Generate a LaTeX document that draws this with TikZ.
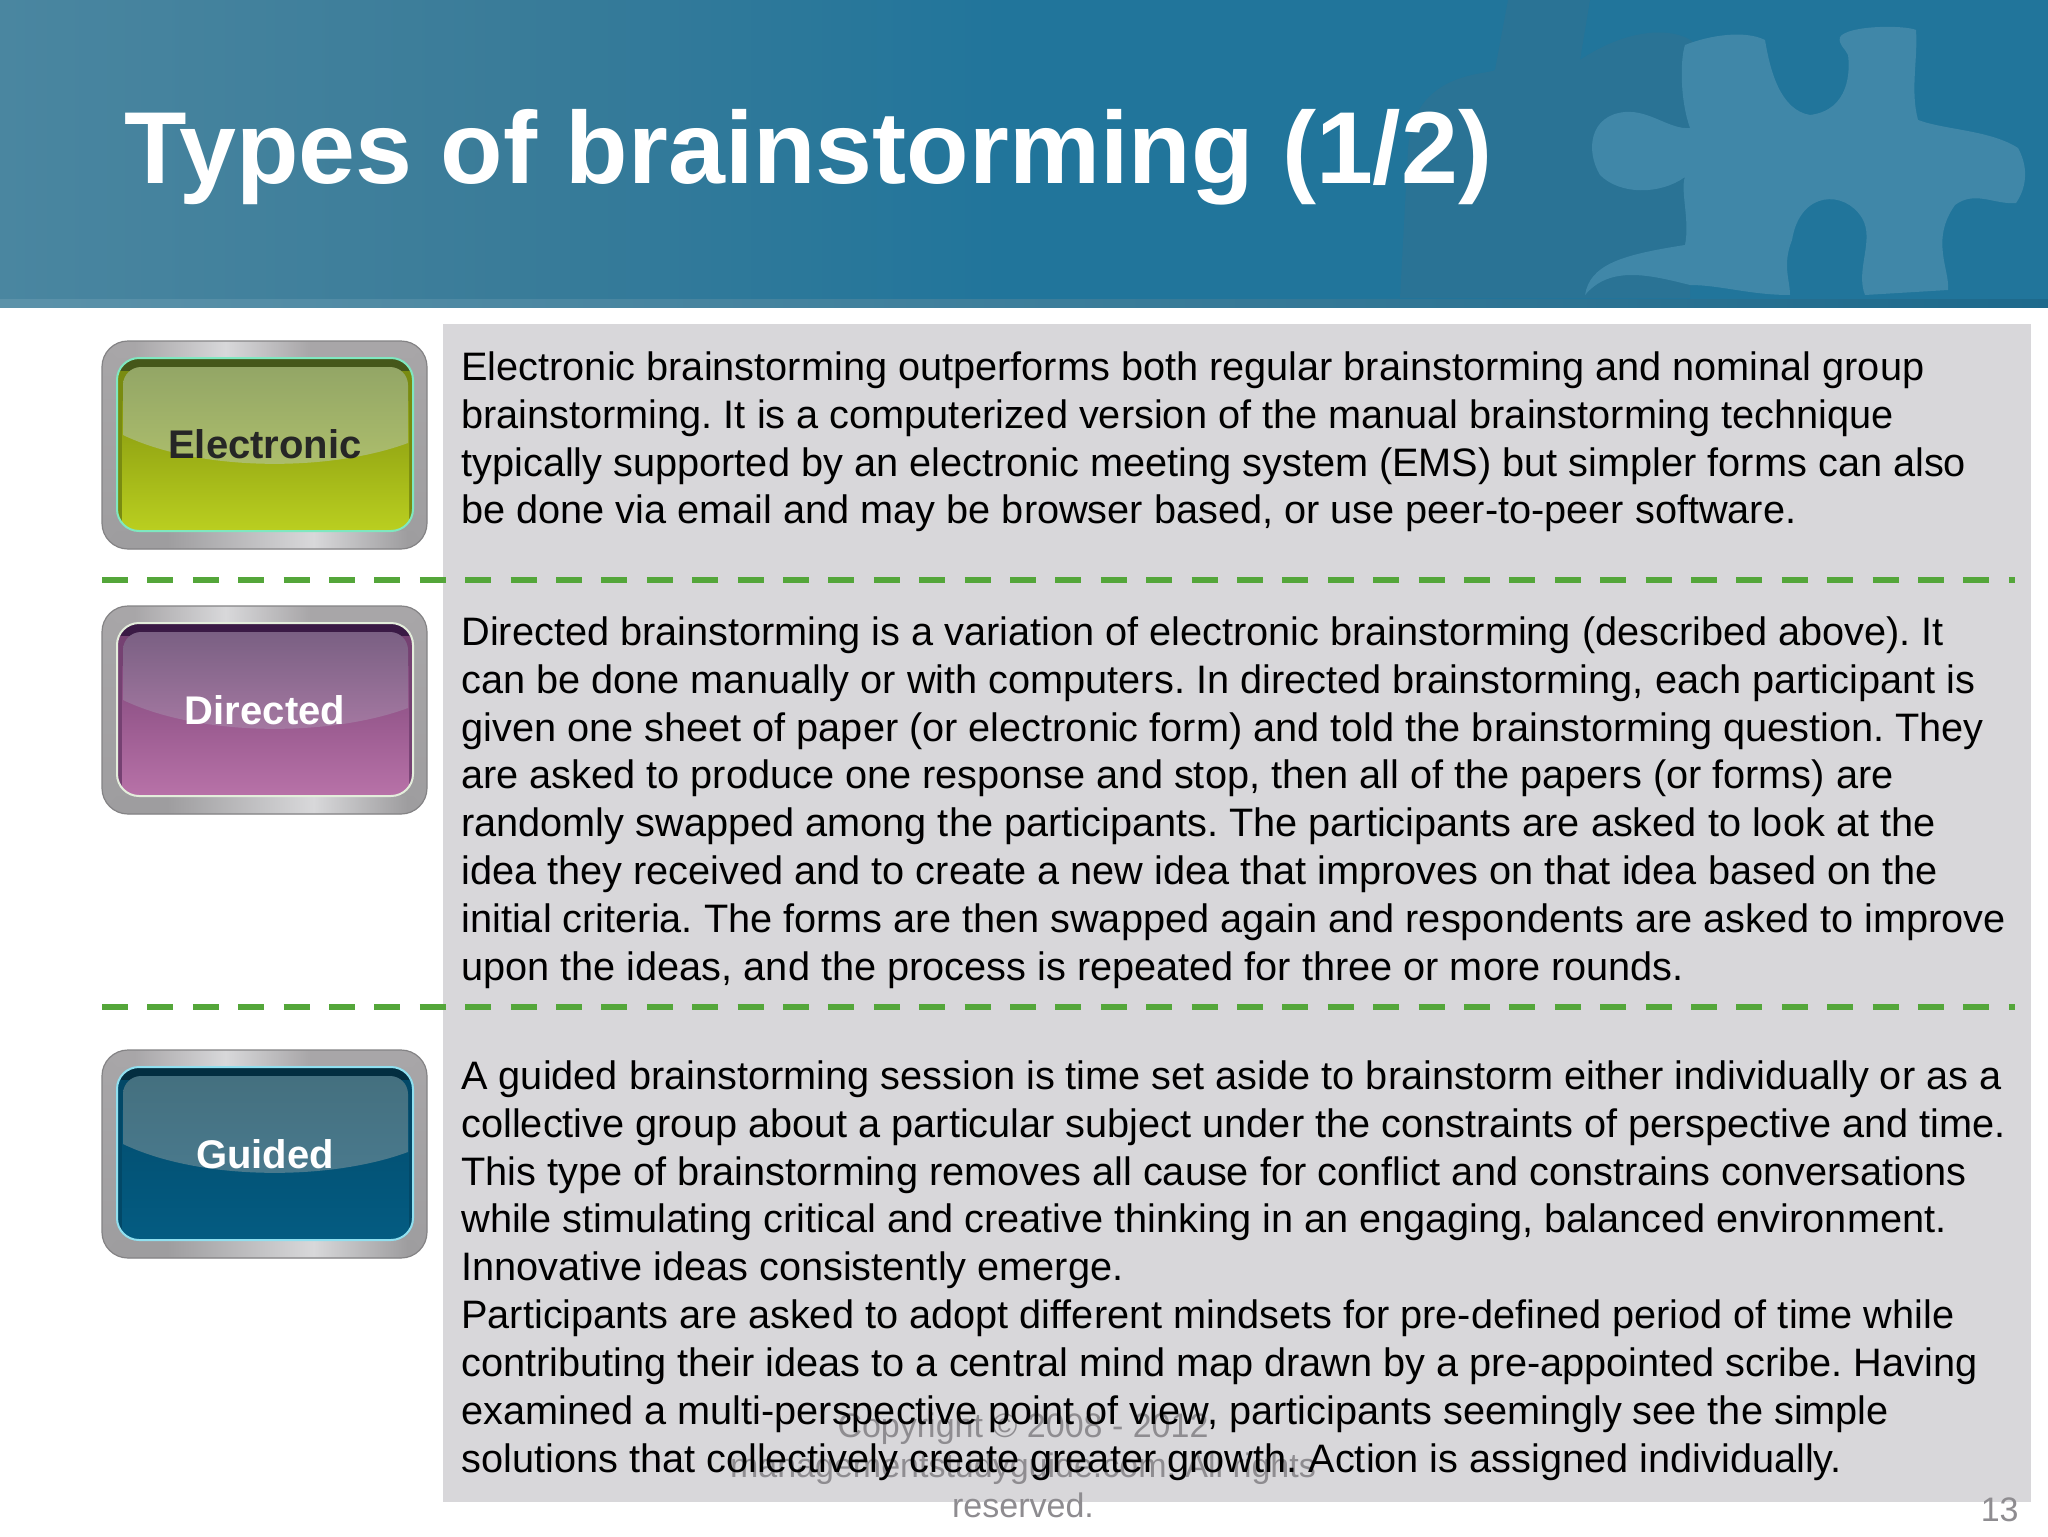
\documentclass[tikz,border=0pt]{standalone}
\usepackage{fontspec}
\setmainfont{Liberation Sans}
\definecolor{panelgray}{HTML}{D8D7DA}
\definecolor{dashgreen}{HTML}{54A63A}
\definecolor{footgray}{HTML}{8E8C90}
\definecolor{headL}{HTML}{4A86A0}
\definecolor{headM}{HTML}{3A7C99}
\definecolor{headR}{HTML}{21759B}
\definecolor{puzzleLight}{HTML}{4087A8}
\definecolor{puzzleDark}{HTML}{2A7395}
\definecolor{frameA}{HTML}{A8A6A8}
\definecolor{frameB}{HTML}{D8D8DA}
\definecolor{frameD}{HTML}{9E9D9F}
\definecolor{frameLine}{HTML}{848385}
\definecolor{gDark}{HTML}{45571A}\definecolor{gLowT}{HTML}{86980F}\definecolor{gLowB}{HTML}{BACF20}\definecolor{gGlT}{HTML}{93A666}\definecolor{gGlB}{HTML}{AEBF6C}\definecolor{gEdge}{HTML}{7FE8C0}
\definecolor{pDark}{HTML}{3A1A45}\definecolor{pLowT}{HTML}{844A7E}\definecolor{pLowB}{HTML}{B872A8}\definecolor{pGlT}{HTML}{7A6083}\definecolor{pGlB}{HTML}{A87AA4}\definecolor{pEdge}{HTML}{E4EEDC}
\definecolor{tDark}{HTML}{032E40}\definecolor{tLowT}{HTML}{024E70}\definecolor{tLowB}{HTML}{045C82}\definecolor{tGlT}{HTML}{44707F}\definecolor{tGlB}{HTML}{4A7A8E}\definecolor{tEdge}{HTML}{90E0F0}
\pgfdeclarehorizontalshading{frametop}{100bp}{color(0bp)=(frameA); color(30bp)=(frameA); color(44bp)=(frameB); color(57bp)=(frameA); color(100bp)=(frameA)}
\pgfdeclarehorizontalshading{framebot}{100bp}{color(0bp)=(frameD); color(35bp)=(frameD); color(57.5bp)=(frameB); color(72bp)=(frameD); color(100bp)=(frameD)}
\tikzset{
  bodytext/.style={anchor=north west,inner sep=0pt,align=left,text=black,font=\fontsize{19.85}{23.92}\selectfont\frenchspacing},
  buttonlabel/.style={anchor=base,inner sep=0pt,font=\fontsize{20}{24}\selectfont\bfseries},
  footertext/.style={anchor=base,inner sep=0pt,text=footgray,font=\fontsize{17}{20}\selectfont\frenchspacing},
  divider/.style={draw=dashgreen,line width=3.2pt,dash pattern=on 13pt off 9.7pt},
}
% #1 top y, #2 colour prefix, #3 name, #4 label colour, #5 label, #6 label baseline
\newcommand{\glassbutton}[6]{%
  \begin{scope}[yshift=#1*-0.5pt]
    \shade[top color=frameA,bottom color=frameD,rounded corners=13pt] (102,0) rectangle (427,208);
    \begin{scope}
      \clip[rounded corners=13pt] (102,0) rectangle (427,208);
      \shade[shading=frametop] (102,0) -- (427,0) -- (413,17) -- (117,17) -- cycle;
      \shade[shading=framebot] (102,208) -- (427,208) -- (413,190) -- (117,190) -- cycle;
    \end{scope}
    \draw[frameLine,line width=0.6pt,rounded corners=13pt] (102,0) rectangle (427,208);
    \fill[#2LowT!80!#2Dark,rounded corners=11pt] (117,17) rectangle (413,190);
    \begin{scope}
      \clip[rounded corners=11pt] (117,17) rectangle (413,190);
      \fill[#2Dark] (117,17) rectangle (413,30);
      \shade[top color=#2LowT,bottom color=#2LowB] (122,60) rectangle (409,190);
    \end{scope}
    \begin{scope}
      \clip[rounded corners=9pt] (123,26) rectangle (408,190);
      \shade[top color=#2GlT,bottom color=#2GlB]
        (123,26) -- (408,26) -- (408,102) .. controls (330,131) and (200,131) .. (123,94) -- cycle;
    \end{scope}
    \draw[#2Edge,line width=1pt,rounded corners=11pt] (117,17) rectangle (413,190);
  \end{scope}
  \node[buttonlabel,text=#4] (#3) at (265,#6) {#5};
}
\begin{document}
\begin{tikzpicture}[x=0.5pt,y=-0.5pt]
\useasboundingbox (0,0) rectangle (2048,1536);
\fill[white] (0,0) rectangle (2048,1536);
% header band
\shade[left color=headL,right color=headM] (0,0) rectangle (500,300);
\shade[left color=headM,right color=headR] (500,0) rectangle (1000,300);
\fill[headR] (1000,0) rectangle (2048,300);
% darker puzzle piece behind
\fill[puzzleDark]
  (1400,298) -- (1408,150) .. controls (1412,70) and (1490,75) .. (1495,70) -- (1508,0) -- (1590,0) -- (1580,60)
  .. controls (1640,20) and (1690,30) .. (1700,50) -- (1690,290) -- (1690,298) -- cycle;
% lighter puzzle piece
\fill[puzzleLight]
  (1840,37) .. controls (1848,25) and (1905,25) .. (1916,30)
  .. controls (1918,60) and (1910,90) .. (1918,120)
  .. controls (1945,130) and (1990,130) .. (2018,148)
  .. controls (2030,170) and (2025,190) .. (2016,203)
  .. controls (1995,205) and (1975,190) .. (1955,205)
  .. controls (1930,240) and (1950,270) .. (1948,290)
  -- (1865,295)
  .. controls (1855,270) and (1875,240) .. (1862,218)
  .. controls (1845,190) and (1800,190) .. (1792,240)
  .. controls (1782,265) and (1790,280) .. (1790,295)
  .. controls (1750,295) and (1720,285) .. (1690,285)
  .. controls (1650,275) and (1610,265) .. (1585,295)
  .. controls (1590,265) and (1620,255) .. (1685,245)
  .. controls (1690,220) and (1680,190) .. (1685,177)
  .. controls (1660,195) and (1620,195) .. (1600,175)
  .. controls (1585,150) and (1590,115) .. (1625,112)
  .. controls (1650,110) and (1670,130) .. (1690,128)
  .. controls (1680,100) and (1680,60) .. (1685,45)
  .. controls (1710,35) and (1745,30) .. (1765,40)
  .. controls (1770,70) and (1780,110) .. (1810,115)
  .. controls (1850,110) and (1850,70) .. (1848,55)
  .. controls (1845,48) and (1838,45) .. (1840,37) -- cycle;
% bottom strip of the header
\shade[left color=headL!90!white,right color=headR!90!black] (0,299) rectangle (2048,307);
% grey panel
\fill[panelgray] (443,324) rectangle (2031,1502);
% footer, beneath the body text
\node[footertext] (f1) at (1023,1437) {Copyright © 2008 - 2012};
\node[footertext] (f2) at (1023,1477) {managementstudyguide.com. All rights};
\node[footertext] (f3) at (1023,1517) {reserved.};
\node[footertext,anchor=base east] (pg) at (2019,1521) {13};
% dividers
\coordinate (d1a) at (102,580); \coordinate (d1b) at (2015,580);
\coordinate (d2a) at (102,1007); \coordinate (d2b) at (2015,1007);
\draw[divider] (d1a) -- (d1b);
\draw[divider] (d2a) -- (d2b);
% buttons
\glassbutton{341}{g}{electronic}{black!85}{Electronic}{458}
\glassbutton{606}{p}{directed}{white}{Directed}{724}
\glassbutton{1050}{t}{guided}{white}{Guided}{1168}
% title
\node[anchor=base west,inner sep=0pt,text=white,font=\fontsize{51.15}{60}\selectfont\bfseries] (title) at (124,183) {Types of brainstorming (1/2)};
% body
\node[bodytext] (p1) at (461,346) {\rule{0pt}{17pt}Electronic brainstorming outperforms both regular brainstorming and nominal group\\
brainstorming. It is a computerized version of the manual brainstorming technique\\
typically supported by an electronic meeting system (EMS) but simpler forms can also\\
be done via email and may be browser based, or use peer-to-peer software.};
\node[bodytext] (p2) at (461,611) {\rule{0pt}{17pt}Directed brainstorming is a variation of electronic brainstorming (described above). It\\
can be done manually or with computers. In directed brainstorming, each participant is\\
given one sheet of paper (or electronic form) and told the brainstorming question. They\\
are asked to produce one response and stop, then all of the papers (or forms) are\\
randomly swapped among the participants. The participants are asked to look at the\\
idea they received and to create a new idea that improves on that idea based on the\\
initial criteria. The forms are then swapped again and respondents are asked to improve\\
upon the ideas, and the process is repeated for three or more rounds.};
\node[bodytext] (p3) at (461,1055) {\rule{0pt}{17pt}A guided brainstorming session is time set aside to brainstorm either individually or as a\\
collective group about a particular subject under the constraints of perspective and time.\\
This type of brainstorming removes all cause for conflict and constrains conversations\\
while stimulating critical and creative thinking in an engaging, balanced environment.\\
Innovative ideas consistently emerge.\\
Participants are asked to adopt different mindsets for pre-defined period of time while\\
contributing their ideas to a central mind map drawn by a pre-appointed scribe. Having\\
examined a multi-perspective point of view, participants seemingly see the simple\\
solutions that collectively create greater growth. Action is assigned individually.};
\end{tikzpicture}
\end{document}
